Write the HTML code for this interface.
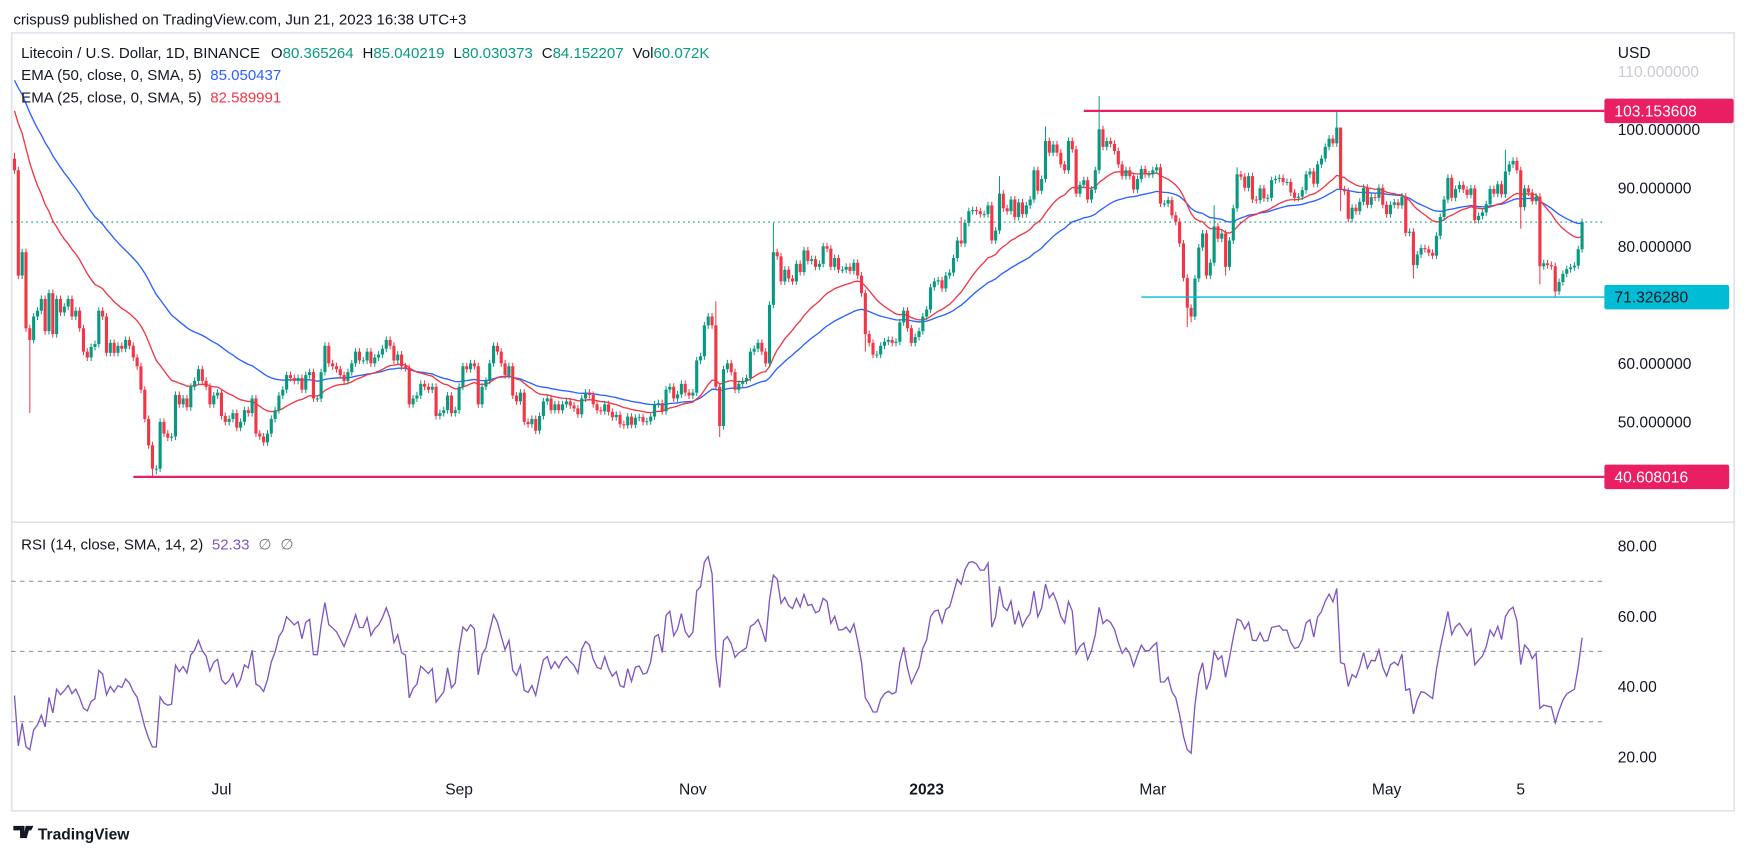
<!DOCTYPE html>
<html><head><meta charset="utf-8"><title>LTCUSD chart</title>
<style>
html,body{margin:0;padding:0;background:#fff;}
svg{display:block;font-family:"Liberation Sans","DejaVu Sans",sans-serif;}
</style></head>
<body>
<svg id="chart" xmlns="http://www.w3.org/2000/svg" width="1747" height="856" viewBox="0 0 1568 768" preserveAspectRatio="none">
  <rect x="0" y="0" width="1568" height="768" fill="#ffffff"/>
  <text x="12" y="22" font-size="13.5" fill="#131722">crispus9 published on TradingView.com, Jun 21, 2023 16:38 UTC+3</text>
  <rect x="10.5" y="29.5" width="1546" height="698" fill="none" stroke="#e0e3eb" stroke-width="1.5"/>
  <line x1="10" y1="468.5" x2="1556" y2="468.5" stroke="#e0e3eb" stroke-width="1.5"/>
  <g id="main"></g>
  <g id="rsi"></g>
  <g id="axes"></g>
  <g font-size="13.5">
    <text x="19" y="52" fill="#131722">Litecoin / U.S. Dollar, 1D, BINANCE <tspan dx="6">O</tspan><tspan fill="#089981">80.365264</tspan><tspan dx="8">H</tspan><tspan fill="#089981">85.040219</tspan><tspan dx="8">L</tspan><tspan fill="#089981">80.030373</tspan><tspan dx="8">C</tspan><tspan fill="#089981">84.152207</tspan><tspan dx="8">Vol</tspan><tspan fill="#089981">60.072K</tspan></text>
    <text x="19" y="72" fill="#131722">EMA (50, close, 0, SMA, 5) <tspan dx="4" fill="#2962ff">85.050437</tspan></text>
    <text x="19" y="92" fill="#131722">EMA (25, close, 0, SMA, 5) <tspan dx="4" fill="#f23645">82.589991</tspan></text>
    <text x="19" y="493" fill="#131722">RSI (14, close, SMA, 14, 2) <tspan dx="4" fill="#7e57c2">52.33</tspan><tspan dx="8" fill="#787b86">∅</tspan><tspan dx="8" fill="#787b86">∅</tspan></text>
  </g>
  <g>
    <path d="M12 741 h10 v11 h-4 v-7 h-6 z M23 741 h4 l-3 11 h-3 z M25 741 h5 l-2 4 h-3 z" fill="#131722"/>
    <text x="34" y="753" font-size="14" font-weight="bold" fill="#131722">TradingView</text>
  </g>
</svg>
<script>
// ---- data ----
const closes = [
93,75,79,66,64,68,69,71,65.5,72,
65,71,68.7,69.7,71,68,69,66,62,61,
62.8,63.3,69,68,61.8,63.5,61.8,63,62.5,64,
63,61,59.5,55.5,50.5,46,42,42,50,48,
47.3,47.5,54.6,53,54,52.5,56,57,59,57,
56,53,54.5,55,51,50,50.5,51.5,49,50,
52,51.5,54,48,47.5,46.5,48,50.5,52,54.5,
55.5,58,57.5,57,57.5,55.5,58,58.5,54,54,
58.5,63,60,59.5,59,58,57,58.5,60,62,
60.5,60.5,62,60,61,61.5,62.5,64,63,60.5,
61.5,59.5,59.2,53,54,54.5,56.5,56,55.5,56,
51,51.5,52,54.5,51.5,52,56,59.5,59,60,
59.5,53,56,57,60,63,62,60,58,59.5,
54.5,53.5,55,50,49.6,50.5,48.5,51,53.5,54,
52,53,52,53,53.5,52.8,52.3,51.3,54,55,
54.6,53,52,51.8,53,51.7,50.8,51.2,49.6,49.4,
50.9,49.5,50.7,50.8,50,50.1,50.9,53,53.2,51.8,
55.5,56,54,54.7,56.5,55,54.5,55,60.5,61.2,
66.5,68,66.5,56,49.3,59,60,58.5,55.5,56.5,
57,57.5,62,62.5,63.5,62,60,70,79,78.3,
74,76,74.5,74,77,75.6,79.3,77.5,77.8,76.5,
77,80,79.6,76.5,78,76,76,76.5,75.8,77.2,
75,72,65,63.5,61.5,61.5,63,63.7,64,63.5,
63.7,67,69,66,63.5,64.5,65.5,68,69.2,73,
74,74.2,72.8,75,75.5,78,81,80.5,84,86,
86.2,86,85.5,85.5,87,81,82.7,89,86.5,86,
88,85,87.5,85.5,87,88,93,89.5,91.5,98,
96,97.4,96,94,93,98,96.6,89,90.5,91.3,
88,89.7,93,100,97,98,97.5,96.3,94,92,
93,92,89.7,91.5,93.2,92.3,92.3,93,93.5,87.3,
87.3,87.9,85.3,84.2,80.5,74.6,69.5,68,74.5,79.8,
82.2,75,77.2,83.4,81.3,82.2,76.5,81,86.5,92.3,
91.9,90,92,88,87.9,89.9,88.2,88.3,91.3,91.5,
91.7,91,91,89.2,88.3,88.5,89.6,92.3,92.8,90.7,
94,95,97,98.4,97.6,100.3,89.7,89.4,84.7,86.6,
86,87.6,90,87.1,88.4,88.3,90,87.1,85.5,87.1,
87.5,87,88.5,82.3,82.5,76.8,78.6,79.7,79.5,78.9,
78.4,81.8,85,88,91.7,88.3,89.8,90.5,89.7,88.8,
89.9,84.5,85.2,85.8,87.2,89.8,89,90.6,88.9,92.8,
94,94.6,93,86.7,89.9,89.2,87.7,88.5,76.6,77.1,
76.8,76.6,72.3,73.9,75.3,76.1,76.4,76.7,79.5,84.15
];
const firstOpen = 95;
const highIdx = [0,183,198,247,257,269,283,313,319,345,346,389];
const highVal = [96,70.6,84,85,92,100.5,105.7,87,93.5,103.15,98,96.5];
const lowIdx = [4,36,37,184,222,306,307,316,346,365,393,398,402];
const lowVal = [51.5,40.6,41,47.4,62,66.2,67,75,86,74.5,83,73.5,71.33];
const ema50Seed = 109;
const ema25Seed = 104;
const rsiSeedGain = 0.9;
const rsiSeedLoss = 1.35;
const priceTicks = [100,90,80,60,50];
const rsiTicks = [80,60,40,20];
const rsiLevels = [70,50,30];
const dateLabels = ["Jul","Sep","Nov","2023","Mar","May","5"];
const dateIdx = [54,116,177,238,297,358,393];
const levelValues = [103.153608,71.32628,40.608016];
const levelLabels = ["103.153608","71.326280","40.608016"];
const levelStartIdx = [279,294,31];
const lastClose = 84.152207;

// ---- scales ----
const NS="http://www.w3.org/2000/svg";
const xOf = i => 13 + i*3.44;
const py = p => 221 - (p-80)*5.25;
const ry = v => 679 - (v-20)*3.15;
function mk(tag, attrs, parent){const e=document.createElementNS(NS,tag);for(const k in attrs)e.setAttribute(k,attrs[k]);parent.appendChild(e);return e;}
const main=document.getElementById('main'), rsiG=document.getElementById('rsi'), axes=document.getElementById('axes');

const dl = mk('line',{x1:10,x2:1440,y1:py(lastClose),y2:py(lastClose),stroke:'#089981','stroke-width':1,'stroke-dasharray':'1.5 3'},main);



function ema(seed,n){const k=2/(n+1);let e=seed;return closes.map(c=>(e=e+(c-e)*k));}
const e50=ema(ema50Seed,50), e25=ema(ema25Seed,25);
function poly(vals,fy){return vals.map((v,i)=>xOf(i).toFixed(1)+','+fy(v).toFixed(1)).join(' ');}
const l50=mk('polyline',{points:poly(e50,py),fill:'none',stroke:'#2962ff','stroke-width':1.2},main);


const l25=mk('polyline',{points:poly(e25,py),fill:'none',stroke:'#f23645','stroke-width':1.2},main);



const cg=mk('g',{},main);


closes.forEach((c,i)=>{
  const o = i===0?firstOpen:closes[i-1];
  let h=Math.max(o,c)+0.6, l=Math.min(o,c)-0.6;
  const hi=highIdx.indexOf(i); if(hi>=0) h=highVal[hi];
  const li=lowIdx.indexOf(i); if(li>=0) l=lowVal[li];
  const col = c>=o?'#089981':'#f23645';
  const x=xOf(i);
  const w=mk('line',{x1:x,x2:x,y1:py(h),y2:py(l),stroke:col,'stroke-width':0.9},cg);
  
  
  const top=py(Math.max(o,c)), bot=py(Math.min(o,c));
  const b=mk('rect',{x:x-1.4,y:top,width:2.8,height:Math.max(0.9,bot-top),fill:col},cg);
  
  
});

const lvColors=['#e91e63','#00bcd4','#e91e63'];
const lvWidth=[2,1.2,2];
levelValues.forEach((v,k)=>{
  const ln=mk('line',{x1:xOf(levelStartIdx[k]),x2:1440,y1:py(v),y2:py(v),stroke:lvColors[k],'stroke-width':lvWidth[k]},main);
  
  
});

const usd=mk('text',{x:1452,y:52,'font-size':14,fill:'#131722'},axes); usd.textContent='USD';


const t110=mk('text',{x:1452,y:69,'font-size':14,fill:'#c9cbd1'},axes); t110.textContent='110.000000';


priceTicks.forEach(p=>{
  const t=mk('text',{x:1452,y:py(p)+5,'font-size':14,fill:'#131722'},axes); t.textContent=p.toFixed(6);
  
  
});
levelValues.forEach((v,k)=>{
  const r=mk('rect',{x:1440,y:py(v)-11,width:k===0?116:112,height:22,rx:2,fill:lvColors[k]},axes);
  
  
  const t=mk('text',{x:1449,y:py(v)+5,'font-size':14,fill:k===1?'#131722':'#ffffff'},axes); t.textContent=levelLabels[k];
  
  
});

rsiLevels.forEach(v=>{
  const d=mk('line',{x1:10,x2:1440,y1:ry(v),y2:ry(v),stroke:'#9598a1','stroke-width':1,'stroke-dasharray':'4 4'},rsiG);
  
  
});
let ag=rsiSeedGain, al=rsiSeedLoss; const rsiVals=[];
closes.forEach((c,i)=>{const p=i===0?firstOpen:closes[i-1];const d=c-p;ag=(ag*13+Math.max(d,0))/14;al=(al*13+Math.max(-d,0))/14;rsiVals.push(100-100/(1+ag/al));});
const rl=mk('polyline',{points:poly(rsiVals,ry),fill:'none',stroke:'#7e57c2','stroke-width':1.2},rsiG);


rsiTicks.forEach(v=>{
  const t=mk('text',{x:1452,y:ry(v)+5,'font-size':14,fill:'#131722'},axes); t.textContent=v.toFixed(2);
  
  
});

dateLabels.forEach((s,k)=>{
  const t=mk('text',{x:xOf(dateIdx[k]),y:713,'font-size':14,fill:'#131722','text-anchor':'middle','font-weight':s==='2023'?'bold':'normal'},axes);
  t.textContent=s;
  
  
});
</script>
</body></html>
